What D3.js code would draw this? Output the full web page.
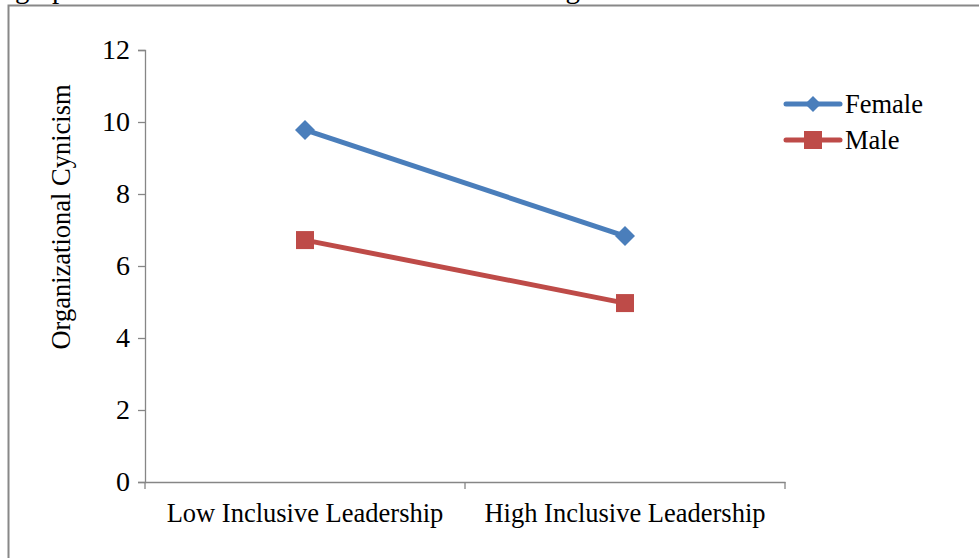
<!DOCTYPE html>
<html>
<head>
<meta charset="utf-8">
<script src="https://cdn.jsdelivr.net/npm/d3@7"></script>
<style>
  body { margin: 0; background: #fff; }
  text { font-family: "Liberation Serif", "Times New Roman", serif; fill: #000; }
</style>
</head>
<body>
<script>
const width = 979;
const height = 558;

// data
const categories = ["Low Inclusive Leadership", "High Inclusive Leadership"];
const female = [9.78, 6.83];
const male = [6.72, 4.97];
const yTicks = [0, 2, 4, 6, 8, 10, 12];

const series = [
    { name: "Female", values: female, color: "#4a7ebb", shape: "diamond" },
    { name: "Male", values: male, color: "#be4b48", shape: "square" }
];

const fontSize = 26.5;

const svg = d3.select("body").append("svg")
    .attr("width", width)
    .attr("height", height);

// clipped caption from the page above the chart (only descenders show)
svg.append("text").attr("x", 15).attr("y", -2).attr("font-size", 29).text("graph");
svg.append("text").attr("x", 448).attr("y", -2).attr("font-size", 29).text("moderating");

// chart frame
svg.append("rect")
    .attr("x", 8.5)
    .attr("y", 5.5)
    .attr("width", 1000)
    .attr("height", 600)
    .attr("fill", "none")
    .attr("stroke", "#888")
    .attr("stroke-width", 2);

const x = d3.scaleBand()
    .domain(categories)
    .range([145, 785]);

const y = d3.scaleLinear()
    .domain([0, 12])
    .range([482, 50]);

// y axis
const yAxis = svg.append("g")
    .attr("transform", "translate(145,0)")
    .call(d3.axisLeft(y).tickValues(yTicks).tickSize(7).tickPadding(8));
yAxis.select(".domain").attr("stroke", "#868686").attr("stroke-width", 1.3);
yAxis.selectAll(".tick line").attr("stroke", "#868686").attr("stroke-width", 1.3);
yAxis.selectAll(".tick text")
    .attr("font-size", 28)
    .attr("fill", "#000");

// x axis
const xAxis = svg.append("g")
    .attr("transform", "translate(0,482)")
    .call(d3.axisBottom(x).tickSize(0).tickPadding(21).tickSizeOuter(0));
xAxis.select(".domain").attr("stroke", "#868686").attr("stroke-width", 1.3);
xAxis.selectAll(".tick text")
    .attr("font-size", fontSize)
    .attr("fill", "#000");

// x axis tick marks between categories
const xBounds = [145, x(categories[1]), 785];
svg.append("g").selectAll("line")
    .data(xBounds)
    .enter().append("line")
    .attr("x1", d => d).attr("x2", d => d)
    .attr("y1", 482).attr("y2", 489)
    .attr("stroke", "#868686")
    .attr("stroke-width", 1.3);

// y axis title
svg.append("text")
    .attr("transform", "translate(70,217) rotate(-90)")
    .attr("text-anchor", "middle")
    .attr("font-size", fontSize)
    .text("Organizational Cynicism");

const cx = d => x(d) + x.bandwidth() / 2;

const line = d3.line()
    .x((d, i) => cx(categories[i]))
    .y(d => y(d));

function marker(g, shape, color, s) {
    if (shape === "diamond") {
        g.append("path")
            .attr("d", `M0,${-s}L${s},0L0,${s}L${-s},0Z`)
            .attr("fill", color);
    } else {
        g.append("rect")
            .attr("x", -s).attr("y", -s)
            .attr("width", 2 * s).attr("height", 2 * s)
            .attr("fill", color);
    }
}

series.forEach(s => {
    svg.append("path")
        .datum(s.values)
        .attr("d", line)
        .attr("fill", "none")
        .attr("stroke", s.color)
        .attr("stroke-width", 5);

    s.values.forEach((v, i) => {
        const g = svg.append("g")
            .attr("transform", `translate(${cx(categories[i])},${y(v)})`);
        marker(g, s.shape, s.color, s.shape === "diamond" ? 10 : 9);
    });
});

// legend
const legend = svg.append("g");
series.forEach((s, i) => {
    const ly = 104 + i * 36;
    legend.append("line")
        .attr("x1", 786).attr("x2", 840)
        .attr("y1", ly).attr("y2", ly)
        .attr("stroke", s.color)
        .attr("stroke-width", 5)
        .attr("stroke-linecap", "round");
    const g = legend.append("g").attr("transform", `translate(813,${ly})`);
    marker(g, s.shape, s.color, s.shape === "diamond" ? 8 : 9);
    legend.append("text")
        .attr("x", 845)
        .attr("y", ly + 9)
        .attr("font-size", fontSize)
        .text(s.name);
});
</script>
</body>
</html>
